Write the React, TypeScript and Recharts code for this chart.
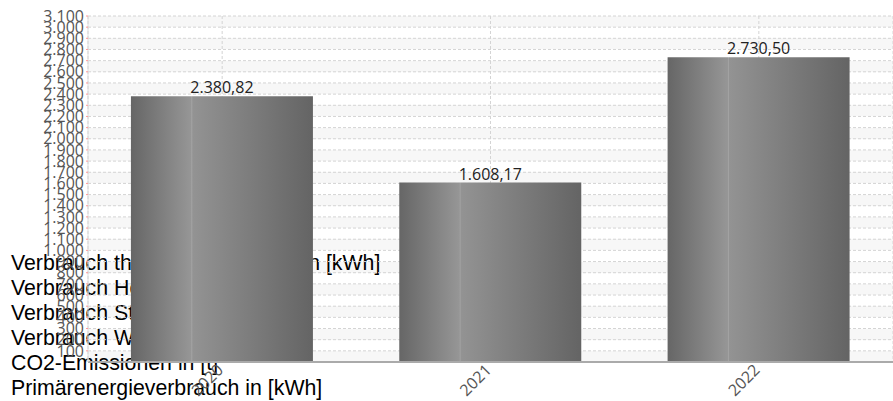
import React from 'react';
import { BarChart, Bar, XAxis, YAxis, CartesianGrid, LabelList } from 'recharts';

const years = ['2020', '2021', '2022'];
const values = [2380.82, 1608.17, 2730.5];
const yTicks = [100, 200, 300, 400, 500, 600, 700, 800, 900, 1000, 1100, 1200, 1300, 1400, 1500, 1600, 1700, 1800, 1900, 2000, 2100, 2200, 2300, 2400, 2500, 2600, 2700, 2800, 2900, 3000, 3100];
const legendItems = [
  'Verbrauch thermische Energie in [kWh]',
  'Verbrauch Heizöl in [l]',
  'Verbrauch Strom in [kWh]',
  'Verbrauch Wasser in [m³]',
  'CO2-Emissionen in [t]',
  'Primärenergieverbrauch in [kWh]',
];

const data = years.map((y, i) => ({ name: y, value: values[i] }));

const fmtInt = (v: number) => v.toLocaleString('de-DE');
const fmtDec = (v: any) =>
  Number(v).toLocaleString('de-DE', { minimumFractionDigits: 2, maximumFractionDigits: 2 });

const YearTick = (props: any) => {
  const { x, y, payload } = props;
  const ax = x + 2;
  const ay = y + 1;
  return (
    <text
      x={ax}
      y={ay}
      textAnchor="end"
      fill="#555"
      fontSize={16}
      fontFamily="Open Sans"
      transform={`rotate(-45 ${ax} ${ay})`}
    >
      {payload.value}
    </text>
  );
};

export default function App() {
  return (
    <div style={{ position: 'absolute', left: 0, top: 0, width: 893, height: 401 }}>
      <div
        style={{
          position: 'absolute',
          left: 11,
          top: 251,
          fontFamily: 'Liberation Sans, Arial, sans-serif',
          fontSize: 21.3,
          lineHeight: '25px',
          color: '#000',
          whiteSpace: 'nowrap',
        }}
      >
        {legendItems.map((t) => (
          <div key={t}>{t}</div>
        ))}
      </div>
      <div style={{ position: 'absolute', left: 0, top: 0 }}>
        <BarChart
          width={893}
          height={401}
          data={data}
          margin={{ top: 16, right: 0, left: 0, bottom: 0 }}
          barCategoryGap="16%"
        >
          <defs>
            <linearGradient id="barGrad" x1="0" y1="0" x2="1" y2="0">
              <stop offset="0%" stopColor="#666" />
              <stop offset="33%" stopColor="#969696" />
              <stop offset="33.4%" stopColor="#a4a4a4" />
              <stop offset="34%" stopColor="#939393" />
              <stop offset="100%" stopColor="#646464" />
            </linearGradient>
          </defs>
          <CartesianGrid
            stroke="#d4d4d4"
            strokeDasharray="3 2"
            horizontalFill={['rgba(0,0,0,0.03)', 'rgba(0,0,0,0)']}
          />
          <XAxis
            dataKey="name"
            height={39}
            tickLine={false}
            axisLine={{ stroke: '#aaa', strokeWidth: 2 }}
            tick={<YearTick />}
            interval={0}
          />
          <YAxis
            width={88}
            domain={[0, 3100]}
            ticks={yTicks}
            interval={0}
            tickFormatter={fmtInt}
            tick={{ fill: '#555', fontSize: 16, fontFamily: 'Open Sans' }}
            tickLine={{ stroke: '#f99' }}
            tickSize={2}
            axisLine={{ stroke: '#ddd' }}
          />
          <Bar dataKey="value" fill="url(#barGrad)" isAnimationActive={false}>
            <LabelList
              dataKey="value"
              position="top"
              offset={3}
              formatter={fmtDec}
              fill="#222"
              fontSize={16}
              fontFamily="Open Sans"
            />
          </Bar>
        </BarChart>
      </div>
    </div>
  );
}
